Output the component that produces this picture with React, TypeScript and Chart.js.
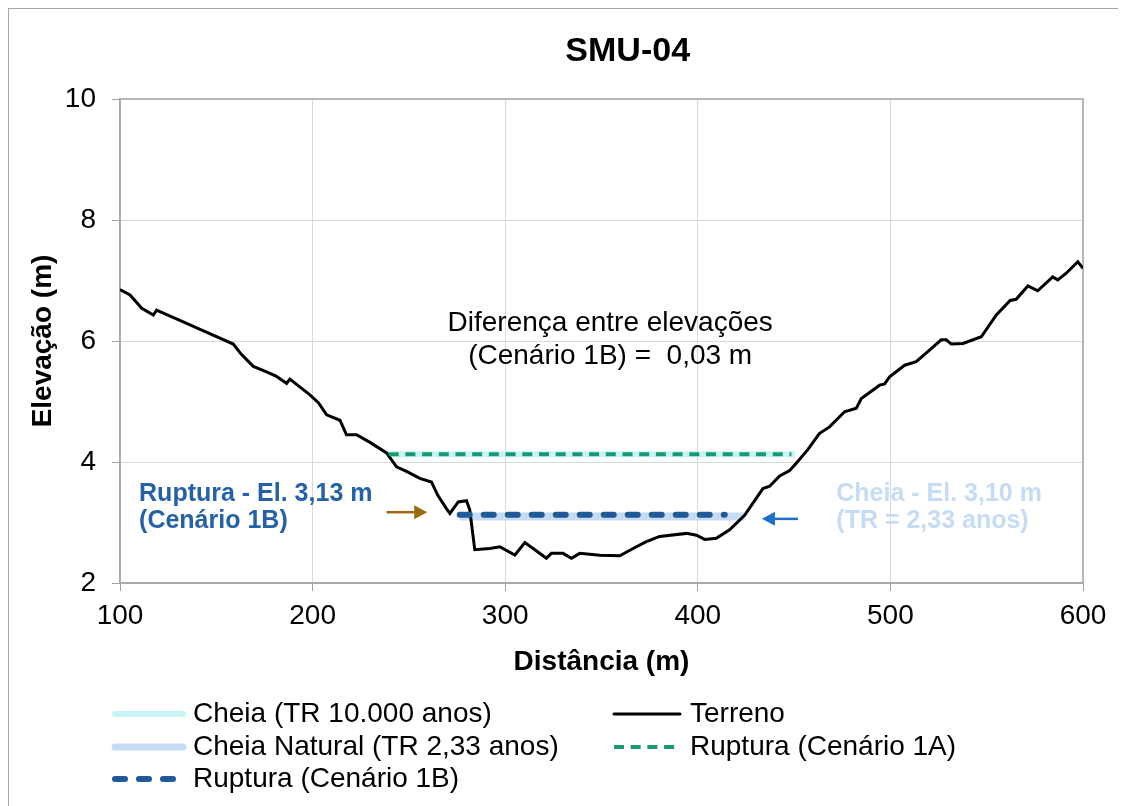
import React, { useEffect, useRef } from "react";
import { Chart, registerables } from "chart.js";

Chart.register(...registerables);

// ---------- DATA ----------
const terrainX = [
  100, 105.2, 111.3, 117.3, 119, 126, 134.6, 146, 158.8, 163, 169.2, 176.1, 181, 186.5, 188.2,
  193, 198.6, 203, 207.3, 214.2, 217.6, 222.8, 230, 238.4, 243.6, 249, 255.7, 261.7,
  265, 269.5, 271.3, 275.6, 279.9, 281.6, 284.2, 292, 297.2, 305, 310.2, 314.5, 321.4,
  324, 330, 334.4, 338.7, 349.1, 359.5, 366.4, 373, 380.2, 394.1, 399.3, 403.6, 409.6,
  416.5, 424.3, 433.8, 437.3, 442.5, 447.7, 451.1, 457, 463.1, 468.4, 476.2, 482.3,
  484.9, 494.4, 497, 499.6, 507.4, 513.4, 520, 526.4, 529, 531.6, 537.7, 547.2, 555,
  562.2, 565.3, 571.4, 576.5, 584.3, 586.9, 591.3, 597.3, 600,
];
const terrainY = [
  6.85, 6.76, 6.54, 6.43, 6.51, 6.41, 6.29, 6.13, 5.95, 5.78, 5.58, 5.49, 5.42, 5.30, 5.37,
  5.25, 5.11, 4.98, 4.78, 4.69, 4.45, 4.45, 4.32, 4.15, 3.92, 3.84, 3.73, 3.67,
  3.45, 3.23, 3.15, 3.34, 3.36, 3.21, 2.55, 2.57, 2.60, 2.46, 2.67, 2.57, 2.41,
  2.49, 2.49, 2.41, 2.49, 2.46, 2.45, 2.57, 2.68, 2.77, 2.82, 2.79, 2.72, 2.74,
  2.88, 3.12, 3.56, 3.60, 3.77, 3.86, 3.98, 4.2, 4.47, 4.58, 4.83, 4.89,
  5.05, 5.27, 5.29, 5.41, 5.60, 5.66, 5.84, 6.02, 6.02, 5.95, 5.96, 6.07, 6.43,
  6.67, 6.69, 6.91, 6.83, 7.06, 7.01, 7.12, 7.31, 7.20,
];

const cheia10000X = [238.5, 450.5];
const cheia10000Y = [4.13, 4.13];
const cheiaNaturalX = [276.4, 424.3];
const cheiaNaturalY = [3.1, 3.1];
const ruptura1AX = [239.5, 448.6];
const ruptura1AY = [4.13, 4.13];
const ruptura1BX = [276.4, 414];
const ruptura1BY = [3.13, 3.13];

const xTickValues = [100, 200, 300, 400, 500, 600];
const yTickValues = [2, 4, 6, 8, 10];

const chartTitle = "SMU-04";
const xTitle = "Distância (m)";
const yTitle = "Elevação (m)";
const diffText = ["Diferença entre elevações", "(Cenário 1B) =  0,03 m"];
const rupturaText = ["Ruptura - El. 3,13 m", "(Cenário 1B)"];
const cheiaText = ["Cheia - El. 3,10 m", "(TR = 2,33 anos)"];

const seriesNames = [
  "Cheia (TR 10.000 anos)",
  "Cheia Natural (TR 2,33 anos)",
  "Ruptura (Cenário 1B)",
  "Terreno",
  "Ruptura (Cenário 1A)",
];

// ---------- STYLES ----------
const FONT = "'Liberation Sans', Arial, sans-serif";
const C_CYAN = "#c8f4f7";
const C_LBLUE = "#c6dcf4";
const C_DBLUE = "#1f5b99";
const C_GREEN = "#169a72";
const C_BLACK = "#000000";

const seriesStyles: Record<string, { color: string; width: number; dash: number[]; cap: CanvasLineCap }> = {
  "Cheia (TR 10.000 anos)": { color: C_CYAN, width: 6, dash: [], cap: "butt" },
  "Cheia Natural (TR 2,33 anos)": { color: C_LBLUE, width: 8, dash: [], cap: "butt" },
  "Ruptura (Cenário 1B)": { color: C_DBLUE, width: 6, dash: [10, 14], cap: "round" },
  Terreno: { color: C_BLACK, width: 3, dash: [], cap: "butt" },
  "Ruptura (Cenário 1A)": { color: C_GREEN, width: 4, dash: [10, 6.7], cap: "butt" },
};

const zip = (xs: number[], ys: number[]) => xs.map((x, i) => ({ x, y: ys[i] }));

function drawArrow(ctx: CanvasRenderingContext2D, x1: number, y: number, x2: number, color: string) {
  const dir = Math.sign(x2 - x1);
  const head = 13;
  ctx.save();
  ctx.strokeStyle = color;
  ctx.fillStyle = color;
  ctx.lineWidth = 2.5;
  ctx.beginPath();
  ctx.moveTo(x1, y);
  ctx.lineTo(x2 - dir * head, y);
  ctx.stroke();
  ctx.beginPath();
  ctx.moveTo(x2, y);
  ctx.lineTo(x2 - dir * head, y - 7);
  ctx.lineTo(x2 - dir * head, y + 7);
  ctx.closePath();
  ctx.fill();
  ctx.restore();
}

const overlayPlugin = {
  id: "overlay",
  beforeDatasetsDraw(chart: any) {
    const { ctx, chartArea: a } = chart;
    ctx.save();
    ctx.strokeStyle = "#a6a6a6";
    ctx.lineWidth = 1.5;
    ctx.strokeRect(a.left, a.top, a.right - a.left, a.bottom - a.top);
    ctx.restore();
  },
  afterDraw(chart: any) {
    const { ctx } = chart;
    const xs = chart.scales.x;
    const ys = chart.scales.y;
    const px = (v: number) => xs.getPixelForValue(v);
    const py = (v: number) => ys.getPixelForValue(v);

    ctx.save();
    ctx.textBaseline = "middle";

    // title
    ctx.fillStyle = "#000";
    ctx.textAlign = "center";
    ctx.font = `bold 34px ${FONT}`;
    ctx.fillText(chartTitle, px(363.6), 43);

    // difference note
    ctx.font = `28px ${FONT}`;
    ctx.fillText(diffText[0], px(354.5), py(6.3));
    ctx.fillText(diffText[1], px(354.5), py(5.74));

    // ruptura label
    ctx.textAlign = "left";
    ctx.font = `bold 25px ${FONT}`;
    ctx.fillStyle = "#2461a8";
    ctx.fillText(rupturaText[0], px(109.9), py(3.47));
    ctx.fillText(rupturaText[1], px(109.9), py(3.02));

    // cheia label
    ctx.fillStyle = "#c6dcf5";
    ctx.fillText(cheiaText[0], px(471.9), py(3.47));
    ctx.fillText(cheiaText[1], px(471.9), py(3.02));

    // arrows
    drawArrow(ctx, px(238.4), py(3.17), px(259.5), "#9c6a12");
    drawArrow(ctx, px(452), py(3.06), px(433.3), "#1e6fc8");

    // legend
    const rows = [705, 738, 770];
    const items = [
      { name: seriesNames[0], col: 0, row: 0 },
      { name: seriesNames[1], col: 0, row: 1 },
      { name: seriesNames[2], col: 0, row: 2 },
      { name: seriesNames[3], col: 1, row: 0 },
      { name: seriesNames[4], col: 1, row: 1 },
    ];
    const cols = [
      { x1: 103, x2: 177, tx: 184 },
      { x1: 602, x2: 674, tx: 681 },
    ];
    ctx.font = `28px ${FONT}`;
    ctx.textAlign = "left";
    for (const it of items) {
      const st = seriesStyles[it.name];
      const c = cols[it.col];
      const y = rows[it.row];
      ctx.save();
      ctx.strokeStyle = st.color;
      ctx.lineWidth = Math.min(st.width, 7);
      ctx.setLineDash(st.dash);
      ctx.lineCap = st.cap === "round" || st.dash.length === 0 ? "round" : "butt";
      ctx.beginPath();
      ctx.moveTo(c.x1 + 3, y);
      ctx.lineTo(c.x2 - 3, y);
      ctx.stroke();
      ctx.restore();
      ctx.fillStyle = "#000";
      ctx.fillText(it.name, c.tx, y);
    }
    ctx.restore();
  },
};

export default function App() {
  const ref = useRef<HTMLCanvasElement | null>(null);

  useEffect(() => {
    if (!ref.current) return;
    const mk = (name: string, data: { x: number; y: number }[], order: number) => {
      const st = seriesStyles[name];
      return {
        label: name,
        data,
        borderColor: st.color,
        backgroundColor: st.color,
        borderWidth: st.width,
        borderDash: st.dash,
        borderCapStyle: st.cap,
        pointRadius: 0,
        tension: 0,
        fill: false,
        order,
      };
    };
    const chart = new Chart(ref.current, {
      type: "line",
      data: {
        datasets: [
          mk("Ruptura (Cenário 1B)", zip(ruptura1BX, ruptura1BY), 1),
          mk("Ruptura (Cenário 1A)", zip(ruptura1AX, ruptura1AY), 2),
          mk("Terreno", zip(terrainX, terrainY), 3),
          mk("Cheia Natural (TR 2,33 anos)", zip(cheiaNaturalX, cheiaNaturalY), 4),
          mk("Cheia (TR 10.000 anos)", zip(cheia10000X, cheia10000Y), 5),
        ] as any,
      },
      options: {
        responsive: false,
        animation: false,
        layout: { padding: { top: 90, left: 0, right: 43, bottom: 127 } },
        plugins: {
          legend: { display: false },
          title: { display: false },
          tooltip: { enabled: false },
        },
        scales: {
          x: {
            type: "linear",
            min: 100,
            max: 600,
            afterBuildTicks: (s: any) => {
              s.ticks = xTickValues.map((v) => ({ value: v }));
            },
            afterFit: (s: any) => {
              s.height = 96;
            },
            grid: { color: "#d9d9d9", lineWidth: 1, tickLength: 8, tickColor: "#a0a0a0", drawTicks: true },
            border: { color: "#a0a0a0", width: 1.5 },
            ticks: {
              color: "#000",
              font: { family: FONT, size: 28 },
              padding: 8,
              maxRotation: 0,
              callback: (v: any) => String(v),
            },
            title: {
              display: true,
              text: xTitle,
              color: "#000",
              font: { family: FONT, size: 28, weight: "bold" },
              padding: 0,
            },
          },
          y: {
            type: "linear",
            min: 2,
            max: 10,
            afterBuildTicks: (s: any) => {
              s.ticks = yTickValues.map((v) => ({ value: v }));
            },
            afterFit: (s: any) => {
              s.width = 111;
            },
            grid: { color: "#d9d9d9", lineWidth: 1, tickLength: 8, tickColor: "#a0a0a0", drawTicks: true },
            border: { color: "#a0a0a0", width: 1.5 },
            ticks: {
              color: "#000",
              font: { family: FONT, size: 28 },
              padding: 16,
              callback: (v: any) => String(v),
            },
            title: {
              display: true,
              text: yTitle,
              color: "#000",
              font: { family: FONT, size: 28, weight: "bold" },
              padding: { top: 17, bottom: 0 },
            },
          },
        },
      },
      plugins: [overlayPlugin],
    } as any);
    return () => chart.destroy();
  }, []);

  return (
    <div
      style={{
        width: 1118,
        height: 798,
        boxSizing: "border-box",
        borderLeft: "1px solid #a6a6a6",
        borderTop: "1px solid #a6a6a6",
        background: "#fff",
      }}
    >
      <canvas ref={ref} width={1117} height={797} style={{ display: "block", width: 1117, height: 797 }} />
    </div>
  );
}
